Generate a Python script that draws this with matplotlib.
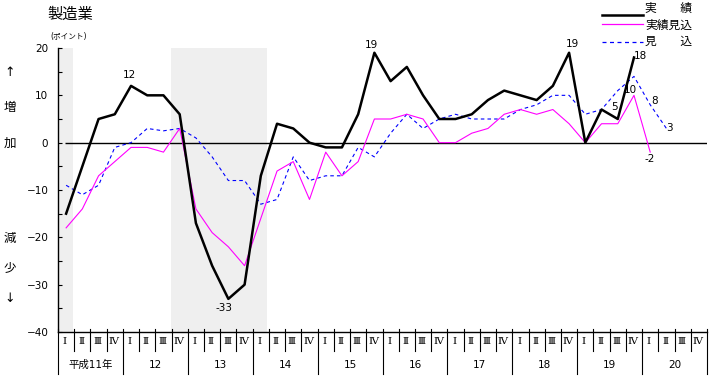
import numpy as np
import matplotlib
matplotlib.use("Agg")
import matplotlib.pyplot as plt
from matplotlib.lines import Line2D

plt.rcParams['font.family'] = ['DejaVu Sans', 'Noto Sans CJK JP']

########################################
# Data (BSI, 製造業, 平成11年 I - 20 IV)
########################################
quarters = ["Ⅰ", "Ⅱ", "Ⅲ", "Ⅳ"]
years = ["平成11年", "12", "13", "14", "15", "16", "17", "18", "19", "20"]

jisseki = [-15, -5, 5, 6, 12, 10, 10, 6, -17, -26, -33, -30, -7, 4, 3, 0,
           -1, -1, 6, 19, 13, 16, 10, 5, 5, 6, 9, 11, 10, 9, 12, 19,
           0, 7, 5, 18]
jisseki_mikomi = [-18, -14, -7, -4, -1, -1, -2, 3, -14, -19, -22, -26, -16, -6, -4, -12,
                  -2, -7, -4, 5, 5, 6, 5, 0, 0, 2, 3, 6, 7, 6, 7, 4,
                  0, 4, 4, 10, -2]
mikomi = [-9, -11, -9, -1, 0, 3, 2.5, 3, 1, -3, -8, -8, -13, -12, -3, -8,
          -7, -7, -1, -3, 2, 6, 3, 5, 6, 5, 5, 5, 7, 8, 10, 10,
          6, 7, 11, 14, 8, 3]

# shaded periods (quarter units)
shade = [(0, 0.9), (6.96, 12.9)]

# value labels: (text, x, y)
labels = [("12", 4.38, 14.4), ("-33", 10.23, -35.0), ("19", 19.33, 20.6),
          ("19", 31.68, 20.8), ("18", 35.87, 18.3), ("5", 34.27, 7.5),
          ("10", 35.25, 11.1), ("8", 36.76, 8.8), ("3", 37.69, 3.2),
          ("-2", 36.49, -3.5)]

########################################
# Figure
########################################
W, H = 711, 379
fig = plt.figure(figsize=(W / 100, H / 100), dpi=100)
ax = fig.add_axes([58 / W, (H - 332) / H, 649 / W, 284 / H])

for a, b in shade:
    ax.axvspan(a, b, facecolor="#efefef", edgecolor="none", zorder=0)

ax.hlines(0, 0.45, 40, color="black", lw=1.0, zorder=1)

x1 = np.arange(len(jisseki)) + 0.5
x2 = np.arange(len(jisseki_mikomi)) + 0.5
x3 = np.arange(len(mikomi)) + 0.5
ax.plot(x3, mikomi, color="#0000ff", lw=0.8, dashes=(3.2, 2.8), zorder=2)
ax.plot(x2, jisseki_mikomi, color="#ff00ff", lw=0.8, zorder=3)
ax.plot(x1, jisseki, color="black", lw=1.8, zorder=4)

for t, x, y in labels:
    ax.text(x, y, t, ha="center", va="center", fontsize=7.5)

ax.set_xlim(0, 40)
ax.set_ylim(-40, 20)
ax.set_yticks(np.arange(-40, 21, 10))
ax.set_yticks(np.arange(-40, 21, 5), minor=True)
ax.tick_params(axis="y", which="both", direction="in", length=3, width=0.8,
               labelsize=7.5, pad=7)
ax.set_xticks([])
for s in ["top", "right"]:
    ax.spines[s].set_visible(False)
ax.spines["left"].set_linewidth(1.0)
ax.spines["bottom"].set_linewidth(1.0)

########################################
# Quarter / year axis below the plot
########################################
for i in range(41):
    bottom = -48.8 if i % 4 == 0 else -44.0
    ax.plot([i, i], [-39.4, bottom], color="black", lw=0.8, clip_on=False)
for i in range(40):
    ax.text(i + 0.42, -42.1, quarters[i % 4], ha="center", va="center",
            fontsize=7.5, family=["DejaVu Serif", "Noto Sans CJK JP"])
for k, y in enumerate(years):
    ax.text(4 * k + 2, -46.9, y, ha="center", va="center", fontsize=7.5)

########################################
# Titles and side text
########################################
fig.text(70 / W, 1 - 14 / H, "製造業", ha="center", va="center", fontsize=11)
fig.text(69 / W, 1 - 37 / H, "(ポイント)", ha="center", va="center", fontsize=5.5)
for t, py in [("↑", 73), ("増", 107), ("加", 143), ("減", 238), ("少", 268), ("↓", 298)]:
    fig.text(10 / W, 1 - py / H, t, ha="center", va="center", fontsize=9)

# legend
leg = [("実　　績", "black", 1.8, None, 8, 15),
       ("実績見込", "#ff00ff", 0.9, None, 25, 24),
       ("見　　込", "#0000ff", 0.9, (3.2, 2.8), 41, 42)]
for t, c, lw, d, ty, ly in leg:
    ln = Line2D([602 / W, 643 / W], [1 - ly / H, 1 - ly / H], color=c, lw=lw,
                transform=fig.transFigure)
    if d:
        ln.set_dashes(d)
    fig.add_artist(ln)
    fig.text(645 / W, 1 - ty / H, t, ha="left", va="center", fontsize=8.5)

fig.savefig("out.png", dpi=100)
